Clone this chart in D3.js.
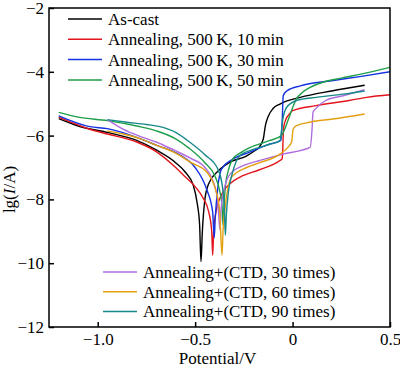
<!DOCTYPE html>
<html>
<head>
<meta charset="utf-8">
<script src="https://cdn.jsdelivr.net/npm/d3@7.9.0/dist/d3.min.js"></script>
<style>
  body { margin: 0; background: #fff; }
  svg { display: block; font-family: "Liberation Serif", "Times New Roman", serif; }
</style>
</head>
<body>
<svg id="chart" width="400" height="369"></svg>
<script>
// polarization curves, [potential V, lg(I/A)]
const asCast = [[-1.2,-5.47],[-1.1,-5.7],[-0.95,-5.9],[-0.8,-6.15],[-0.7,-6.45],[-0.6,-6.85],[-0.55,-7.15],[-0.51,-7.55],[-0.49,-8.1],[-0.477,-8.8],[-0.47,-9.95],
  [-0.463,-9.0],[-0.45,-8.0],[-0.43,-7.5],[-0.38,-7.1],[-0.31,-6.8],[-0.24,-6.65],[-0.2,-6.5],[-0.17,-6.35],[-0.15,-6.1],[-0.14,-5.7],[-0.125,-5.4],[-0.1,-5.15],[-0.065,-5.01],[0.04,-4.8],[0.2,-4.6],[0.37,-4.42]];
const ann10 = [[-1.2,-5.42],[-1.04,-5.8],[-0.95,-5.95],[-0.8,-6.2],[-0.7,-6.5],[-0.6,-7.0],[-0.55,-7.3],[-0.5,-7.6],[-0.46,-7.95],[-0.43,-8.4],[-0.415,-9.0],[-0.41,-9.75],
  [-0.405,-9.0],[-0.39,-8.3],[-0.36,-7.8],[-0.32,-7.5],[-0.27,-7.3],[-0.17,-7.07],[-0.065,-6.78],[-0.053,-6.72],[-0.046,-5.75],[-0.035,-5.5],[-0.02,-5.35],[0.0,-5.22],[0.12,-5.06],[0.29,-4.9],[0.38,-4.8],[0.5,-4.72]];
const ann30 = [[-1.2,-5.38],[-1.04,-5.72],[-0.95,-5.78],[-0.78,-6.1],[-0.7,-6.3],[-0.58,-6.6],[-0.5,-7.0],[-0.44,-7.7],[-0.41,-8.4],[-0.402,-9.2],
  [-0.397,-8.6],[-0.385,-7.7],[-0.365,-7.05],[-0.31,-6.75],[-0.22,-6.52],[-0.12,-6.27],[-0.06,-6.15],[-0.053,-5.5],[-0.048,-4.75],[-0.03,-4.6],[0.04,-4.44],[0.2,-4.28],[0.345,-4.15],[0.5,-4.0]];
const ann50 = [[-1.2,-5.27],[-1.1,-5.42],[-0.95,-5.53],[-0.8,-5.7],[-0.7,-5.85],[-0.6,-6.1],[-0.53,-6.4],[-0.45,-6.85],[-0.4,-7.25],[-0.375,-7.7],[-0.362,-8.2],[-0.357,-8.8],
  [-0.352,-8.2],[-0.345,-7.6],[-0.33,-7.1],[-0.306,-6.72],[-0.27,-6.55],[-0.22,-6.38],[-0.12,-6.16],[-0.057,-6.0],[-0.04,-5.79],[-0.025,-5.55],[-0.01,-5.3],[0.005,-5.05],[0.02,-4.85],[0.05,-4.65],[0.09,-4.49],[0.155,-4.33],[0.25,-4.2],[0.345,-4.08],[0.5,-3.86]];
const ctd30 = [[-0.95,-5.5],[-0.87,-5.8],[-0.78,-6.03],[-0.7,-6.2],[-0.61,-6.45],[-0.52,-6.72],[-0.45,-7.0],[-0.41,-7.4],[-0.385,-8.0],[-0.372,-8.97],
  [-0.368,-8.4],[-0.355,-7.8],[-0.32,-7.2],[-0.236,-6.9],[-0.168,-6.78],[-0.05,-6.58],[0.09,-6.37],[0.1,-5.8],[0.105,-5.27],[0.123,-5.13],[0.17,-4.9],[0.26,-4.75],[0.37,-4.56]];
const ctd60 = [[-0.95,-5.85],[-0.87,-5.95],[-0.78,-6.1],[-0.7,-6.3],[-0.61,-6.52],[-0.52,-6.85],[-0.44,-7.15],[-0.4,-7.6],[-0.375,-8.3],[-0.362,-9.75],
  [-0.357,-9.0],[-0.345,-8.2],[-0.313,-7.3],[-0.236,-7.0],[-0.168,-6.85],[-0.065,-6.58],[-0.023,-6.36],[-0.005,-6.2],[0.003,-5.8],[0.02,-5.69],[0.088,-5.58],[0.206,-5.48],[0.37,-5.32]];
const ctd90 = [[-0.95,-5.5],[-0.85,-5.58],[-0.75,-5.65],[-0.68,-5.72],[-0.6,-5.9],[-0.527,-6.21],[-0.45,-6.6],[-0.385,-7.03],[-0.36,-7.6],[-0.35,-8.3],[-0.345,-9.12],
  [-0.34,-8.5],[-0.33,-7.8],[-0.31,-7.2],[-0.27,-6.62],[-0.22,-6.47],[-0.12,-6.28],[-0.065,-6.16],[-0.05,-5.48],[-0.031,-5.12],[0.02,-4.9],[0.123,-4.8],[0.26,-4.7],[0.37,-4.6]];

const topLabels = ["As-cast", "Annealing, 500\u2009K, 10\u2009min", "Annealing, 500\u2009K, 30\u2009min", "Annealing, 500\u2009K, 50\u2009min"];
const bottomLabels = ["Annealing+(CTD, 30 times)", "Annealing+(CTD, 60 times)", "Annealing+(CTD, 90 times)"];
const xTicks = [-1.0, -0.5, 0, 0.5];
const yTicks = [-2, -4, -6, -8, -10, -12];

const series = [
  { data: asCast, color: "#000000" },
  { data: ann10, color: "#e3141b" },
  { data: ann30, color: "#1432e0" },
  { data: ann50, color: "#1f9e4a" },
  { data: ctd30, color: "#b06de0" },
  { data: ctd60, color: "#e3a010" },
  { data: ctd90, color: "#17898a" }
];

const svg = d3.select("#chart");
const margin = { left: 49, right: 10, top: 8, bottom: 42 };
const W = 400, H = 369;
const fs = "17px";

const x = d3.scaleLinear().domain([-1.25, 0.5]).range([margin.left, W - margin.right]);
const y = d3.scaleLinear().domain([-12, -2]).range([H - margin.bottom, margin.top]);

const fmt = v => (v === 0 ? "0" : d3.format(".1f")(v)).replace("-", "\u2212");

const line = d3.line()
  .x(d => x(d[0]))
  .y(d => y(d[1]))
  .curve(d3.curveMonotoneX);

// clip so the 0.5 V ends stop at the frame
svg.append("clipPath").attr("id", "clip")
  .append("rect")
  .attr("x", x(-1.25)).attr("y", y(-2))
  .attr("width", x(0.5) - x(-1.25)).attr("height", y(-12) - y(-2));

svg.append("g").attr("clip-path", "url(#clip)")
  .selectAll("path")
  .data(series)
  .join("path")
  .attr("d", d => line(d.data))
  .attr("fill", "none")
  .attr("stroke", d => d.color)
  .attr("stroke-width", 1.4);

// axes, ticks point inward
const xAxis = svg.append("g")
  .attr("transform", `translate(0,${y(-12)})`)
  .call(d3.axisBottom(x).tickValues(xTicks).tickSize(-5).tickPadding(6).tickFormat(fmt));
const yAxis = svg.append("g")
  .attr("transform", `translate(${x(-1.25)},0)`)
  .call(d3.axisLeft(y).tickValues(yTicks).tickSize(-5).tickPadding(5).tickFormat(d => String(d).replace("-", "\u2212")));

[xAxis, yAxis].forEach(g => {
  g.select(".domain").remove();
  g.selectAll("line").attr("stroke", "#000").attr("stroke-width", 1.5);
  g.selectAll("text").attr("fill", "#000").style("font-size", fs)
    .style("font-family", "'Liberation Serif', serif");
});

svg.append("rect")
  .attr("x", x(-1.25)).attr("y", y(-2))
  .attr("width", x(0.5) - x(-1.25)).attr("height", y(-12) - y(-2))
  .attr("fill", "none").attr("stroke", "#000").attr("stroke-width", 1.5);

// axis titles
svg.append("text")
  .attr("x", (x(-1.25) + x(0.5)) / 2 - 2).attr("y", 364)
  .attr("text-anchor", "middle").style("font-size", fs)
  .text("Potential/V");
svg.append("text")
  .attr("transform", `translate(15,${(y(-2) + y(-12)) / 2 + 22}) rotate(-90)`)
  .attr("text-anchor", "middle").style("font-size", fs)
  .html("lg(<tspan font-style='italic'>I</tspan>/A)");

// legends
const topLeg = svg.append("g").selectAll("g")
  .data(topLabels)
  .join("g")
  .attr("transform", (d, i) => `translate(68,${19 + i * 20.3})`);
topLeg.append("line").attr("x1", 0).attr("x2", 34)
  .attr("stroke", (d, i) => series[i].color).attr("stroke-width", 1.5);
topLeg.append("text").attr("x", 40).attr("y", 6).style("font-size", fs).text(d => d);

const botLeg = svg.append("g").selectAll("g")
  .data(bottomLabels)
  .join("g")
  .attr("transform", (d, i) => `translate(103,${272 + i * 19.7})`);
botLeg.append("line").attr("x1", 0).attr("x2", 34)
  .attr("stroke", (d, i) => series[i + 4].color).attr("stroke-width", 1.5);
botLeg.append("text").attr("x", 40).attr("y", 6).style("font-size", fs).text(d => d);
</script>
</body>
</html>
